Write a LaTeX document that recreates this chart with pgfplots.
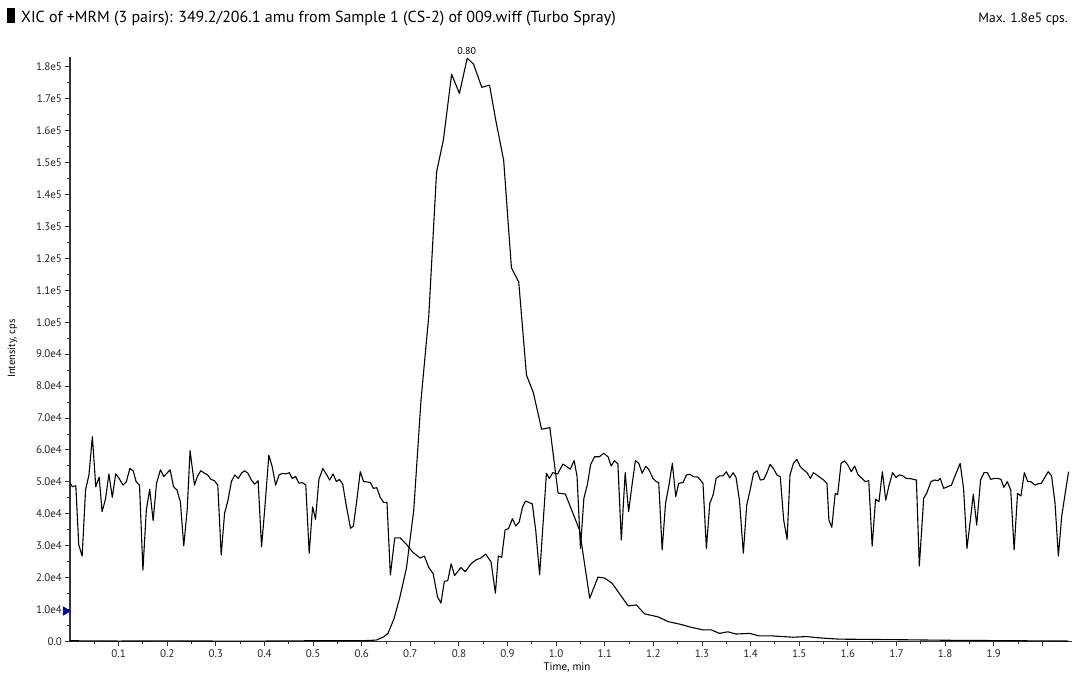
\documentclass[border=0pt]{standalone}
\usepackage{fontspec}
\setmainfont{PT Sans}
\usepackage{pgfplots}
\usepackage{pgfplotstable}
\pgfplotsset{compat=1.18}
\pgfplotstableread{
t I
0.000 300
0.100 200
0.200 250
0.300 200
0.400 200
0.500 300
0.600 300
0.630 500
0.645 1500
0.654 2600
0.666 7000
0.678 13600
0.692 23000
0.707 41000
0.722 75600
0.738 102000
0.754 147000
0.768 157000
0.785 177600
0.801 171600
0.817 182600
0.830 180800
0.847 173500
0.863 174200
0.876 163000
0.892 150700
0.908 117000
0.923 112600
0.939 83400
0.953 78000
0.970 66500
0.987 67000
1.004 46500
1.019 46200
1.048 35000
1.069 13600
1.086 20200
1.100 19900
1.115 18300
1.130 15100
1.148 11200
1.165 11500
1.182 8700
1.209 7800
1.230 6300
1.254 5500
1.278 4500
1.302 3700
1.319 3700
1.336 2600
1.353 3100
1.370 2400
1.398 2600
1.418 1800
1.446 1800
1.487 1400
1.514 1600
1.550 1100
1.583 800
1.650 700
1.720 600
1.800 450
1.900 350
2.000 250
2.054 200
}\peaktrace
\pgfplotstableread{
t I
0.000 49600
0.005 48500
0.012 48800
0.018 30300
0.025 26800
0.032 47500
0.039 52200
0.046 64200
0.053 48500
0.060 51500
0.066 40700
0.073 44600
0.080 52500
0.087 45200
0.094 52500
0.101 51100
0.109 49000
0.116 50100
0.123 54200
0.130 53500
0.136 50100
0.143 49000
0.150 22400
0.157 41200
0.164 47700
0.171 37900
0.178 49600
0.186 53800
0.193 51700
0.199 52700
0.206 53800
0.213 48500
0.220 47500
0.227 43800
0.234 30000
0.241 41200
0.247 59800
0.256 49000
0.262 51700
0.269 53500
0.276 52800
0.283 52200
0.290 50800
0.297 50400
0.304 49000
0.311 27100
0.318 40200
0.325 44300
0.332 50100
0.339 52200
0.346 51100
0.353 52800
0.359 53500
0.366 52700
0.373 50600
0.380 49300
0.387 50400
0.394 29700
0.401 42300
0.409 58400
0.416 54700
0.423 49000
0.430 52200
0.437 52700
0.444 52500
0.451 52900
0.457 51100
0.464 51700
0.471 49600
0.478 49800
0.485 49000
0.492 27700
0.499 42200
0.505 38300
0.512 50800
0.520 54200
0.527 52500
0.534 50600
0.541 52500
0.548 50100
0.554 50800
0.561 49300
0.568 42800
0.577 35500
0.583 36200
0.590 44300
0.597 53200
0.604 50100
0.611 50000
0.618 49800
0.624 48000
0.631 48200
0.638 45200
0.645 43600
0.652 43600
0.659 20900
0.668 32500
0.679 32500
0.692 30500
0.705 28000
0.720 26200
0.729 26800
0.738 23200
0.747 21300
0.756 14000
0.763 12100
0.770 18900
0.777 19100
0.784 24400
0.791 20700
0.804 23200
0.813 21900
0.825 24400
0.835 25600
0.845 26200
0.855 27400
0.866 25000
0.875 15200
0.881 26800
0.888 26400
0.895 35000
0.902 35400
0.910 38500
0.917 36200
0.924 37500
0.931 42200
0.937 44000
0.944 43600
0.951 43100
0.958 34800
0.966 20900
0.980 52700
0.986 51100
0.993 52900
1.003 52500
1.014 55600
1.029 54000
1.037 56700
1.043 51700
1.050 29200
1.057 44900
1.064 49000
1.071 55500
1.079 57900
1.089 57900
1.098 59000
1.107 57800
1.113 55000
1.120 56700
1.127 55600
1.134 31800
1.142 52900
1.149 40700
1.156 49000
1.163 56700
1.170 55800
1.177 52700
1.184 54900
1.191 53800
1.199 51100
1.206 50100
1.211 49800
1.218 28700
1.225 43300
1.232 49000
1.239 55800
1.246 45400
1.252 49600
1.261 49800
1.268 52200
1.275 52400
1.283 51600
1.291 51600
1.302 49600
1.309 29200
1.316 43300
1.323 46000
1.329 51100
1.336 51900
1.343 51900
1.350 53200
1.357 51300
1.364 52900
1.370 51400
1.377 44300
1.385 27700
1.392 42800
1.399 47500
1.406 52700
1.413 53500
1.420 50600
1.427 50800
1.433 52700
1.440 55500
1.447 54200
1.454 52200
1.461 51600
1.468 38100
1.475 32000
1.481 52200
1.488 55800
1.495 57100
1.502 54800
1.509 53800
1.516 52900
1.523 51100
1.529 52900
1.536 52200
1.543 51400
1.550 50600
1.557 49600
1.561 38100
1.567 35800
1.574 46400
1.579 46000
1.586 55800
1.593 56600
1.600 55300
1.607 53200
1.614 55000
1.621 52200
1.627 51400
1.636 50100
1.643 50400
1.650 29900
1.657 44600
1.664 43800
1.671 53200
1.678 44300
1.684 48500
1.692 52900
1.699 51400
1.706 52200
1.713 51900
1.720 51100
1.730 51000
1.741 50600
1.747 23700
1.756 44900
1.762 46400
1.771 50100
1.778 50600
1.785 50400
1.790 51100
1.797 48000
1.805 48500
1.813 49000
1.820 51700
1.831 55800
1.838 48000
1.845 29200
1.852 38100
1.858 46200
1.865 36500
1.873 50600
1.880 52900
1.887 52900
1.894 50800
1.901 51100
1.908 51100
1.915 50800
1.921 48300
1.928 50100
1.935 47500
1.942 28700
1.949 46400
1.956 45600
1.963 52900
1.970 50100
1.976 50100
1.985 49000
1.991 49400
1.998 49600
2.005 51400
2.012 53200
2.019 51900
2.026 43600
2.033 26800
2.040 39400
2.047 46400
2.054 53200
}\noisetrace
\begin{document}
\begin{tikzpicture}[x=1pt,y=1pt]
\useasboundingbox (-70,-41.3) rectangle (1010,641.7);
\begin{axis}[
  at={(0,0)}, anchor=south west,
  scale only axis, width=1002pt, height=584.7pt,
  xmin=0, xmax=2.061, ymin=0, ymax=183000,
  clip=false,
  axis x line*=bottom, axis y line*=left,
  axis line style={-, line width=1.2pt, black!80},
  tick align=outside,
  major tick length=4.5pt, minor tick length=2.8pt,
  every tick/.style={black!80, line width=1pt},
  scaled y ticks=false, scaled x ticks=false,
  xtick={0.1,0.2,0.3,0.4,0.5,0.6,0.7,0.8,0.9,1.0,1.1,1.2,1.3,1.4,1.5,1.6,1.7,1.8,1.9,2.0},
  xticklabels={0.1,0.2,0.3,0.4,0.5,0.6,0.7,0.8,0.9,1.0,1.1,1.2,1.3,1.4,1.5,1.6,1.7,1.8,1.9,{}},
  minor xtick={0.05,0.15,0.25,0.35,0.45,0.55,0.65,0.75,0.85,0.95,1.05,1.15,1.25,1.35,1.45,1.55,1.65,1.75,1.85,1.95},
  ytick={0,10000,20000,30000,40000,50000,60000,70000,80000,90000,100000,110000,120000,130000,140000,150000,160000,170000,180000},
  yticklabels={0.0,1.0e4,2.0e4,3.0e4,4.0e4,5.0e4,6.0e4,7.0e4,8.0e4,9.0e4,1.0e5,1.1e5,1.2e5,1.3e5,1.4e5,1.5e5,1.6e5,1.7e5,1.8e5},
  minor ytick={5000,15000,25000,35000,45000,55000,65000,75000,85000,95000,105000,115000,125000,135000,145000,155000,165000,175000},
  ticklabel style={font=\fontsize{11}{13}\selectfont, text=black!85},
  /pgf/number format/assume math mode=true,
]
\addplot[black, line width=1.1pt, line join=round] table[x=t,y=I] {\noisetrace};
\addplot[black, line width=1.1pt, line join=round] table[x=t,y=I] {\peaktrace};
\addplot[only marks, mark=triangle*, mark size=5pt,
  mark options={rotate=-90, fill=blue!65!black, draw=blue!65!black}]
  coordinates {(-0.009,9600)};
\node[anchor=base, font=\fontsize{10}{12}\selectfont] at (axis cs:0.816,183700) {0.80};
\end{axis}
\fill[black] (-63,633.7) rectangle (-55,618.7);
\node[anchor=base west, inner sep=0pt, font=\fontsize{16}{19}\selectfont] at (-49,619.5) {XIC of +MRM (3 pairs): 349.2/206.1 amu from Sample 1 (CS-2) of 009.wiff (Turbo Spray)};
\node[anchor=base east, inner sep=0pt, font=\fontsize{13.5}{16}\selectfont] at (998,619.5) {Max. 1.8e5 cps.};
\node[rotate=90, font=\fontsize{10.5}{12}\selectfont] at (-57.5,293) {Intensity, cps};
\node[font=\fontsize{11}{13}\selectfont] at (497,-25.5) {Time, min};
\end{tikzpicture}
\end{document}
